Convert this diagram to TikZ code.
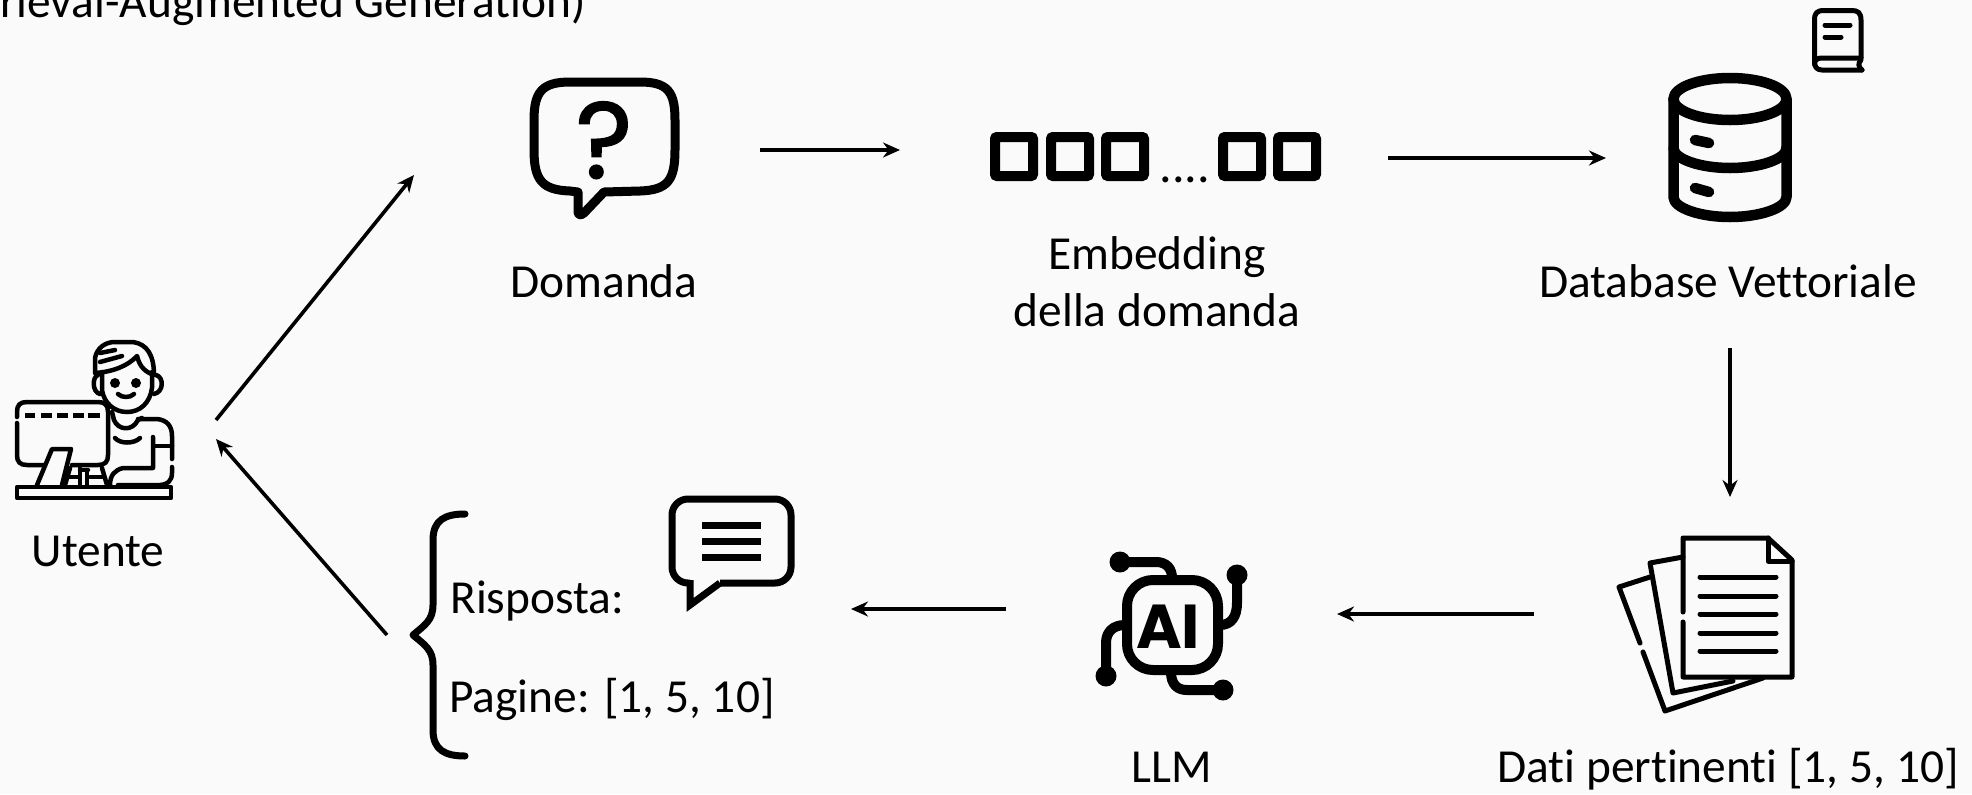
\documentclass[tikz,border=0pt]{standalone}
\usepackage{fontspec}
\setmainfont[Ligatures={NoCommon}]{Carlito}
\newfontfamily\glyphfont{Poppins}
\newfontfamily\qfont[FakeBold=1.6]{Poppins}
\usetikzlibrary{arrows.meta}
\definecolor{bgc}{HTML}{FAFAFA}
\tikzset{
  lbl/.style={anchor=base,inner sep=0pt,font=\fontsize{23.7}{28.5}\selectfont,text=black},
  flow/.style={line width=1.8pt,-{Stealth[length=8.5pt,width=7.5pt]}},
  ic/.style={line width=#1*0.5pt,line cap=round,line join=round,draw=black},
  ic/.default=5
}
\begin{document}
\begin{tikzpicture}[x=0.5pt,y=-0.5pt]
\useasboundingbox (0,0) rectangle (1972,794);
\fill[bgc] (0,0) rectangle (1972,794);

% labels
\node[lbl,anchor=base east] (titolo) at (586,17) {rieval-Augmented Generation)};
\node[lbl] (domanda) at (604,297) {Domanda};
\node[lbl,align=center,anchor=center] (embedding) at (1157,282) {Embedding\\della domanda};
\node[lbl] (database) at (1728,297) {Database Vettoriale};
\node[lbl] (utente) at (98,566) {Utente};
\node[lbl] (dati) at (1728,782) {Dati pertinenti [1, 5, 10]};
\node[lbl] (llm) at (1172,782) {LLM};
\node[lbl,anchor=base west] (risposta) at (450,613) {Risposta:};
\node[lbl,anchor=base west] (pagine) at (449,712) {Pagine: [1, 5, 10]};

% connector ends
\coordinate (u1) at (216,420); \coordinate (qin) at (414,175);
\coordinate (rout) at (387,635); \coordinate (u2) at (216,439);
\coordinate (qout) at (760,150); \coordinate (ein) at (900,150);
\coordinate (eout) at (1388,158); \coordinate (dbin) at (1606,158);
\coordinate (dbout) at (1730,348); \coordinate (docin) at (1730,497);
\coordinate (docout) at (1534,614); \coordinate (aiin) at (1337,614);
\coordinate (aiout) at (1006,609); \coordinate (rin) at (851,609);
\draw[flow] (u1) -- (qin);
\draw[flow] (rout) -- (u2);
\draw[flow] (qout) -- (ein);
\draw[flow] (eout) -- (dbin);
\draw[flow] (dbout) -- (docin);
\draw[flow] (docout) -- (aiin);
\draw[flow] (aiout) -- (rin);

% question bubble
\draw[ic=9] (578,192) -- (578,213)
  .. controls (580,216) and (582,215) .. (584,213) -- (604,192)
  -- (640,191) .. controls (668,190) and (675,180) .. (675,150)
  -- (675,120) .. controls (675,92) and (668,82) .. (640,82)
  -- (570,82) .. controls (542,82) and (534,92) .. (534,120)
  -- (534,150) .. controls (534,180) and (542,190) .. (570,191) -- cycle;
\node[inner sep=0pt,anchor=base,font=\qfont\fontsize{54}{54}\selectfont] (qmark) at (604,178) {?};

% embedding squares
\foreach \xa in {990,1046,1101,1218,1273}{
  \draw[line width=5pt,rounded corners=1pt] (\xa+5,137) rectangle (\xa+43,176);
}
\node[inner sep=0pt,anchor=base west,font=\fontsize{25}{25}\selectfont] (dots) at (1159,182) {....};

% database
\begin{scope}[ic=10.5]
  \draw (1730,99) ellipse [x radius=56.5,y radius=21];
  \draw (1673.5,99) -- (1673.5,197) .. controls (1673.5,208) and (1700,217) .. (1730,217)
     .. controls (1760,217) and (1786.5,208) .. (1786.5,197) -- (1786.5,99);
  \draw (1673.5,148) .. controls (1673.5,159) and (1700,168) .. (1730,168)
     .. controls (1760,168) and (1786.5,159) .. (1786.5,148);
  \draw (1695,140) -- (1709,143);
  \draw (1695,188) -- (1709,192);
\end{scope}

% book
\begin{scope}[ic=5]
  \draw (1861,58) -- (1861,20) .. controls (1861,13) and (1858,10.5) .. (1852,10.5)
     -- (1824,10.5) .. controls (1817,10.5) and (1814.5,13) .. (1814.5,20)
     -- (1814.5,62) .. controls (1814.5,67) and (1817,70) .. (1822,70) -- (1862,70);
  \draw (1861,58) -- (1822,58) .. controls (1817,58) and (1814.5,60) .. (1814.5,64);
  \draw (1861,60) .. controls (1858,63) and (1858,67) .. (1862,70);
  \draw (1825,25) -- (1850,25);
  \draw (1825,37) -- (1841,37);
\end{scope}

% documents
\begin{scope}[ic=5]
  \draw (1683,612) -- (1683,538) -- (1768,538) -- (1792,560) -- (1792,677) -- (1683,677) -- (1683,622);
  \draw (1768,538) -- (1768,561) -- (1792,561);
  \foreach \ya in {577,596,614,633,651}{\draw (1700,\ya) -- (1776,\ya);}
  \draw (1683,557) -- (1650,563) -- (1673,693) -- (1733,681);
  \draw (1650,577) -- (1619,587) -- (1640,643);
  \draw (1643,652) -- (1665,711) -- (1763,678);
\end{scope}

% AI chip
\begin{scope}[ic=10]
  \draw[rounded corners=26pt*0.5] (1127,580) rectangle (1218,670);
  \draw (1120,562) -- (1156,562) .. controls (1166,562) and (1172,568) .. (1172,578);
  \draw (1237,575) -- (1237,603) .. controls (1237,617) and (1231,625) .. (1220,625);
  \draw (1106,676) -- (1106,643) .. controls (1106,632) and (1113,625) .. (1125,625);
  \draw (1223,690) -- (1187,690) .. controls (1177,690) and (1171,684) .. (1171,672);
  \fill (1120,562) circle [radius=10.5];
  \fill (1237,575) circle [radius=10.5];
  \fill (1106,676) circle [radius=10.5];
  \fill (1223,690) circle [radius=10.5];
\end{scope}
\node[inner sep=0pt,anchor=base,font=\glyphfont\bfseries\fontsize{31}{31}\selectfont] (aitext) at (1168,648) {AI};

% brace
\draw[ic=7] (465,514) .. controls (445,514) and (433,520) .. (433,540) -- (433,605)
  .. controls (433,620) and (425,625) .. (413,635)
  .. controls (425,645) and (433,650) .. (433,665) -- (433,730)
  .. controls (433,750) and (445,756) .. (465,756);

% answer bubble
\draw[line width=3.5pt,line join=miter,rounded corners=8pt] (690,583) -- (672,583) -- (672,499) -- (791,499) -- (791,583) -- (720,583);
\draw[line width=3.5pt,line join=miter,miter limit=6] (690,580) -- (690,605) -- (720,583);
\foreach \ya in {525,541,557}{\draw[line width=3.5pt] (702,\ya) -- (761,\ya);}

% user
\begin{scope}[ic=4.5]
  % monitor
  \draw (17,417) -- (17,412) .. controls (17,405) and (20,402) .. (27,402) -- (98,402)
     .. controls (105,402) and (108,405) .. (108,412) -- (108,455)
     .. controls (108,462) and (105,465) .. (98,465) -- (72,465);
  \draw (17,423) -- (17,455) .. controls (17,462) and (20,465) .. (27,465) -- (43,465);
  \foreach \xa/\xb in {25/35,41/52,57/68,73/84,88/100}{\draw[line cap=butt,line width=2.5pt] (\xa,415) -- (\xb,415);}
  \draw (37,485) -- (52,449) -- (71,449) -- (62,485);
  \draw (17,487) rectangle (171,498);
  % keyboard
  \draw (70,468) -- (65,485);
  \draw (68,477) -- (78,477);
  \draw (80,468) -- (80,485);
  \draw (80,470) -- (88,470);
  \draw (87,470) -- (87,485);
  \draw (90,477) -- (103,477);
  \draw (102,468) -- (107,485);
  % head
  \draw (102,372) -- (102,390) .. controls (104,403) and (114,412) .. (127,412)
     .. controls (140,412) and (150,403) .. (152,388) -- (152,372);
  \draw (98,375) .. controls (92,377) and (92,392) .. (100,394);
  \draw (156,375) .. controls (164,377) and (164,392) .. (154,394);
  \fill (115,383) circle [radius=5];
  \fill (136,383) circle [radius=5];
  \draw (118,394) .. controls (122,398) and (130,398) .. (134,394);
  % hair
  \draw (95,373) -- (95,358) .. controls (97,348) and (105,342) .. (115,342) -- (133,342)
     .. controls (147,344) and (154,355) .. (154,375)
     .. controls (146,372) and (140,368) .. (137,356)
     .. controls (128,366) and (112,372) .. (95,373);
  \draw (100,353) -- (115,350);
  \draw (100,362) -- (122,356);
  % body
  \draw (112,412) -- (114,420) .. controls (118,430) and (132,432) .. (138,420) -- (142,418);
  \draw (138,419) -- (157,419) .. controls (167,420) and (172,426) .. (172,436) -- (172,459);
  \draw (172,467) -- (172,473) .. controls (172,481) and (167,485) .. (160,485) -- (118,485);
  \draw (153,437) -- (153,468) -- (123,468) .. controls (115,470) and (110,475) .. (110,485);
  \draw (155,446) -- (172,446);
  \draw (115,438) .. controls (120,444) and (134,444) .. (140,438);
\end{scope}
\end{tikzpicture}
\end{document}
